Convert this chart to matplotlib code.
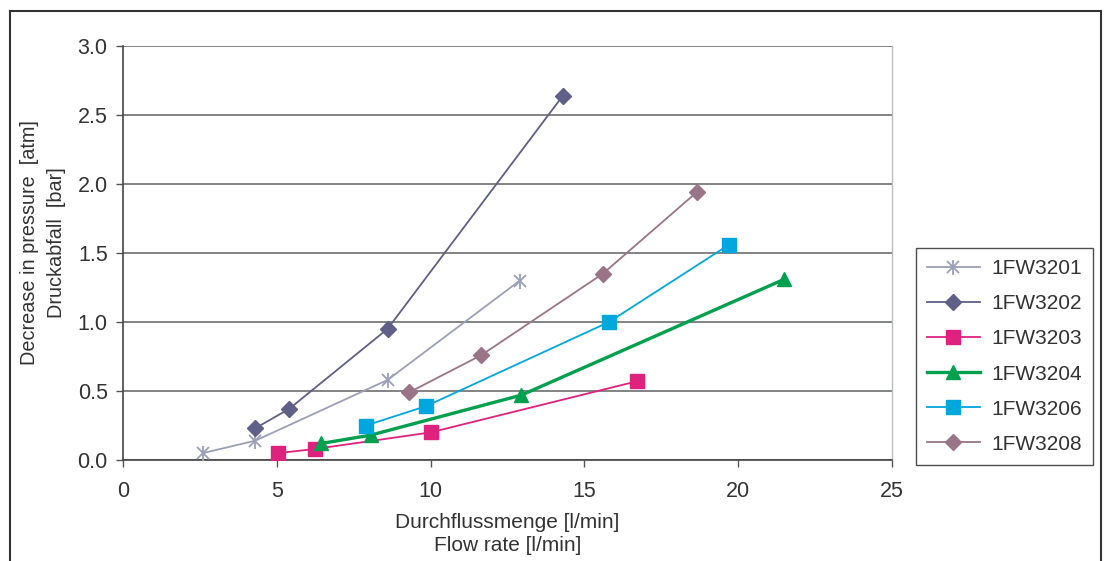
import matplotlib
matplotlib.use("Agg")
import matplotlib.pyplot as plt
from matplotlib.lines import Line2D
from matplotlib.legend_handler import HandlerTuple

plt.rcParams['font.family'] = ['Liberation Sans', 'DejaVu Sans']

# ---- data ----
series_names = ["1FW3201", "1FW3202", "1FW3203", "1FW3204", "1FW3206", "1FW3208"]
x_3201 = [2.6, 4.3, 8.6, 12.9]
y_3201 = [0.05, 0.14, 0.58, 1.30]
x_3202 = [4.3, 5.4, 8.6, 14.3]
y_3202 = [0.23, 0.37, 0.95, 2.64]
x_3203 = [5.05, 6.25, 10.0, 16.7]
y_3203 = [0.05, 0.08, 0.20, 0.57]
x_3204 = [6.45, 8.05, 12.95, 21.5]
y_3204 = [0.12, 0.18, 0.47, 1.31]
x_3206 = [7.9, 9.85, 15.8, 19.7]
y_3206 = [0.25, 0.39, 1.00, 1.56]
x_3208 = [9.3, 11.65, 15.6, 18.65]
y_3208 = [0.49, 0.76, 1.35, 1.94]
x_ticks = [0, 5, 10, 15, 20, 25]
y_ticks = [0.0, 0.5, 1.0, 1.5, 2.0, 2.5, 3.0]

xs = [x_3201, x_3202, x_3203, x_3204, x_3206, x_3208]
ys = [y_3201, y_3202, y_3203, y_3204, y_3206, y_3208]
colors = ["#9b9fb8", "#5f5f87", "#e0227f", "#00a04e", "#00a6de", "#9a7487"]
markers = ["x", "D", "s", "^", "s", "D"]
msizes = [9, 8.5, 10, 10.5, 10, 8.5]
lws = [1.3, 1.3, 1.3, 2.4, 1.3, 1.3]

text_col = "#333333"
fig = plt.figure(figsize=(11.06, 5.61), dpi=100)
ax = fig.add_axes([123/1106, 1-460/561, (892-123)/1106, (460-46)/561])

handles = []
for x, y, c, m, ms, lw, name in zip(xs, ys, colors, markers, msizes, lws, series_names):
    kw = dict(color=c, marker=m, markersize=ms, linewidth=lw,
              markerfacecolor=c, markeredgecolor=c, zorder=3)
    if m == "x":
        kw['markeredgewidth'] = 1.3
        h1, = ax.plot(x, y, **kw)
        h2, = ax.plot(x, y, linestyle="none", marker="|", markersize=ms * 1.2,
                      markeredgewidth=1.3, color=c, zorder=3)
        handles.append((h1, h2))
    else:
        h, = ax.plot(x, y, **kw)
        handles.append(h)

ax.set_xlim(0, 25)
ax.set_ylim(0, 3.0)
ax.set_xticks(x_ticks)
ax.set_yticks(y_ticks)
ax.set_yticklabels([f"{v:.1f}" for v in y_ticks])
ax.yaxis.grid(True, color="#7a7a7a", linewidth=1.3)
ax.set_axisbelow(True)

ax.spines["top"].set_visible(False)
ax.spines["right"].set_color("#b8bcc6")
ax.spines["right"].set_linewidth(1.0)
ax.spines["left"].set_color("#444444")
ax.spines["bottom"].set_color("#444444")
ax.spines["left"].set_linewidth(1.2)
ax.spines["bottom"].set_linewidth(1.2)

ax.tick_params(axis="x", direction="out", length=5, width=1, color="#555555",
               labelsize=15.5, labelcolor=text_col, pad=10)
ax.tick_params(axis="y", direction="out", length=5, width=1, color="#555555",
               labelsize=15.5, labelcolor=text_col, pad=6)

ax.set_xlabel("Durchflussmenge [l/min]\nFlow rate [l/min]", fontsize=15,
              color=text_col, linespacing=1.3, labelpad=8)
ax.set_ylabel("Decrease in pressure  [atm]\nDruckabfall  [bar]", fontsize=14.3,
              color=text_col, linespacing=1.5)
ax.yaxis.set_label_coords(-(123 - 66) / (892 - 123), (460 - 243) / (460 - 46))

leg = fig.legend(handles, series_names, loc="center",
                 bbox_to_anchor=((912+1097)/2/1106, 1-(251+462)/2/561),
                 handler_map={tuple: HandlerTuple(ndivide=1)},
                 frameon=True, fancybox=False, edgecolor="#222222", fontsize=15,
                 labelspacing=0.77, handlelength=2.5, handletextpad=0.55,
                 borderpad=0.55, borderaxespad=0)
leg.get_frame().set_linewidth(1.0)
for t in leg.get_texts():
    t.set_color(text_col)

# outer frame
fc = "#333333"
fig.add_artist(Line2D([10/1106, 10/1106], [0, 1-11/561], transform=fig.transFigure, color=fc, lw=1.5))
fig.add_artist(Line2D([10/1106, 1101/1106], [1-11/561, 1-11/561], transform=fig.transFigure, color=fc, lw=1.5))
fig.add_artist(Line2D([1101/1106, 1101/1106], [0, 1-11/561], transform=fig.transFigure, color=fc, lw=1.5))

fig.savefig("out.png", dpi=100)
